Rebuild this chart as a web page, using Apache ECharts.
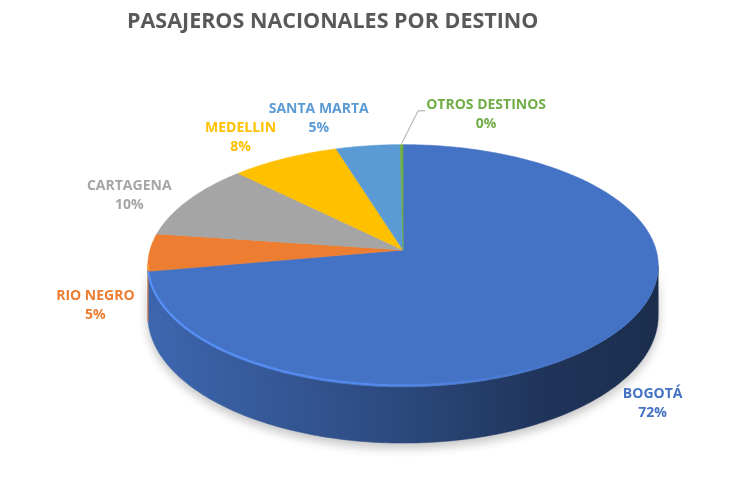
<!DOCTYPE html>
<html>
<head>
<meta charset="utf-8">
<script src="https://cdn.jsdelivr.net/npm/echarts@6/dist/echarts.min.js"></script>
<style>html,body{margin:0;padding:0;background:#fff}#c{width:736px;height:478px}</style>
</head>
<body>
<div id="c"></div>
<script>
// ---- data ----
const titleText = 'PASAJEROS NACIONALES POR DESTINO';
const categories = ['BOGOTÁ', 'RIO NEGRO', 'CARTAGENA', 'MEDELLIN', 'SANTA MARTA', 'OTROS DESTINOS'];
const values = [72.2, 5.0, 10.2, 7.8, 4.6, 0.2];
const colors = ['#4472C4', '#ED7D31', '#A5A5A5', '#FFC000', '#5B9BD5', '#70AD47'];
// label nudges (layout only, px): [dx, dy, leaderLine]
const labelNudge = [[13, 0, false], [1, 0, false], [3, 0, false], [-2, 2, false], [-36, 2, false], [85, 0, true]];

// ---- derived ----
const total = values.reduce((a, b) => a + b, 0);
const starts = [];
values.reduce((acc, v, i) => { starts[i] = acc; return acc + v; }, 0);

function hexRgb(h) { h = h.replace('#', ''); return [0, 2, 4].map(k => parseInt(h.substr(k, 2), 16)); }
function shade(h, f, a) {
  const c = hexRgb(h).map(x => Math.max(0, Math.min(255, Math.round(x * f))));
  return a == null ? 'rgb(' + c.join(',') + ')' : 'rgba(' + c.join(',') + ',' + a + ')';
}
function geom(api) {
  const w = api.getWidth(), h = api.getHeight();
  return { cx: w * 0.5476, cy: h * 0.523, rx: w * 0.3438, ry: h * 0.249, p: 0.13, d: h * 0.1025 };
}
function proj(g, th) {
  const u = Math.sin(th), v = -Math.cos(th);
  const s = 1 / (1 - g.p * v);
  return [g.cx + g.rx * u * s, g.cy + g.ry * v * s, s, u, v];
}
function arc(g, a, b) {
  const n = Math.max(2, Math.ceil((b - a) / (Math.PI / 180)));
  const pts = [];
  for (let k = 0; k <= n; k++) pts.push(proj(g, a + (b - a) * k / n));
  return pts;
}
function angles(i) {
  return [starts[i] / total * Math.PI * 2, (starts[i] + values[i]) / total * Math.PI * 2];
}

function renderSide(params, api) {
  const g = geom(api), i = params.dataIndex;
  const [a0, a1] = angles(i);
  const lo = Math.acos(-g.p), hi = Math.PI * 2 - lo;
  const a = Math.max(a0, lo), b = Math.min(a1, hi);
  if (b <= a) return { type: 'group', children: [] };
  const top = arc(g, a, b);
  const bot = top.map(q => [q[0], q[1] + g.d * q[2]]).reverse();
  const pts = top.map(q => [q[0], q[1]]).concat(bot);
  const grad = new echarts.graphic.LinearGradient(g.cx - g.rx, 0, g.cx + g.rx, 0, [
    { offset: 0, color: shade(colors[i], 0.9) },
    { offset: 0.5, color: shade(colors[i], 0.64) },
    { offset: 0.78, color: shade(colors[i], 0.46) },
    { offset: 1, color: shade(colors[i], 0.4) }
  ], true);
  return {
    type: 'polygon',
    shape: { points: pts },
    style: { fill: grad, stroke: grad, lineWidth: 0.5, shadowBlur: 10, shadowOffsetY: 5, shadowColor: 'rgba(0,0,0,0.22)' }
  };
}

function renderTop(params, api) {
  const g = geom(api), i = params.dataIndex;
  const [a0, a1] = angles(i);
  const pts = [[g.cx, g.cy]].concat(arc(g, a0, a1).map(q => [q[0], q[1]]));
  const children = [{
    type: 'polygon',
    shape: { points: pts },
    style: { fill: colors[i], stroke: colors[i], lineWidth: 0.6 }
  }];
  // rim highlight on the front edge
  const lo = Math.acos(-g.p), hi = Math.PI * 2 - lo;
  const a = Math.max(a0, lo), b = Math.min(a1, hi);
  if (b > a) {
    const hl = new echarts.graphic.LinearGradient(g.cx - g.rx, 0, g.cx + g.rx, 0, [
      { offset: 0, color: shade(colors[i], 1.3, 0.95) },
      { offset: 0.45, color: shade(colors[i], 1.3, 0.7) },
      { offset: 0.85, color: shade(colors[i], 1.3, 0.0) },
      { offset: 1, color: shade(colors[i], 1.3, 0.0) }
    ], true);
    children.push({
      type: 'polyline',
      shape: { points: arc(g, a, b).map(q => [q[0], q[1] - 1.5]) },
      style: { stroke: hl, lineWidth: 2, fill: null }
    });
  }
  // label
  const th = (a0 + a1) / 2;
  const u = Math.sin(th), v = -Math.cos(th);
  const nd = labelNudge[i];
  const lx = g.cx + 1.22 * g.rx * u + nd[0];
  const ly = g.cy + 1.22 * g.ry * v + 10 + (v > 0 ? 43 + 12 * v : 0) + nd[1];
  const pct = Math.round(values[i] / total * 100);
  children.push({
    type: 'text',
    x: lx, y: ly,
    style: {
      text: categories[i] + '\n' + pct + '%',
      fill: colors[i],
      fontFamily: 'Open Sans', fontWeight: 'bold', fontSize: 14,
      lineHeight: 19, align: 'center', verticalAlign: 'middle'
    }
  });
  if (nd[2]) {
    const rim = proj(g, th);
    children.push({
      type: 'polyline',
      shape: { points: [[rim[0], rim[1] - 1], [lx - 68, ly - 4], [lx - 61, ly - 4]] },
      style: { stroke: '#A6A6A6', lineWidth: 1, fill: null }
    });
  }
  return { type: 'group', children: children };
}

const chart = echarts.init(document.getElementById('c'), null, { renderer: 'canvas' });
chart.setOption({
  animation: false,
  backgroundColor: '#ffffff',
  title: {
    text: titleText, left: 122, top: 6,
    textStyle: { fontFamily: 'Open Sans', fontWeight: 'bold', fontSize: 21.5, color: '#595959' }
  },
  series: [
    { type: 'custom', coordinateSystem: 'none', silent: true, z: 1, renderItem: renderSide, data: values },
    { type: 'custom', coordinateSystem: 'none', silent: true, z: 2, renderItem: renderTop, data: values }
  ]
});
</script>
</body>
</html>
